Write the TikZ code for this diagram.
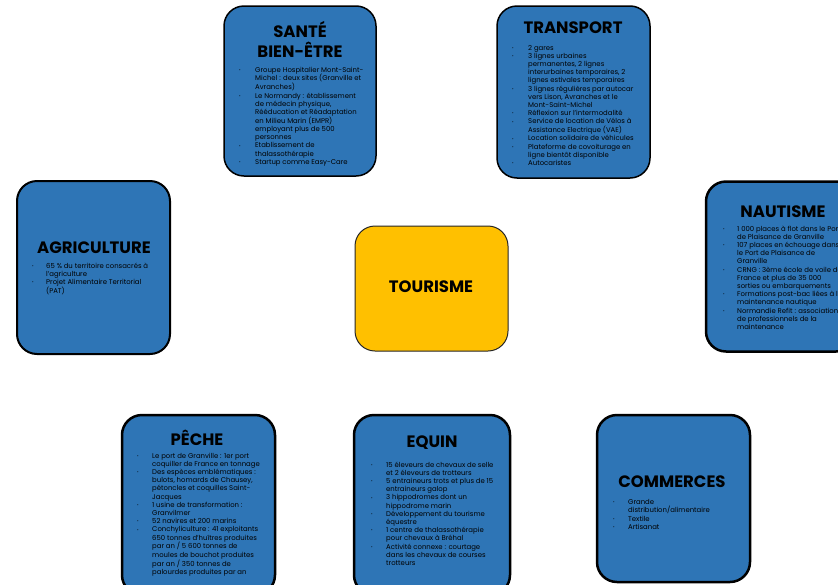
\documentclass[tikz,border=0pt]{standalone}
\usepackage{fontspec}
\setmainfont{Poppins}
\definecolor{boxblue}{HTML}{2E75B6}
\definecolor{boxyellow}{HTML}{FFC000}
\newcommand\blt{\raisebox{0.7pt}{\fontsize{3.8}{4}\selectfont\textbullet}}
\newcommand\mylist[2]{{\fontsize{6.9}{8.2}\selectfont\begin{tabular}[t]{@{}p{#1}@{}l@{}}#2\end{tabular}}}
\tikzset{
  bluebox/.style={draw=black, fill=boxblue, rounded corners=20pt, line width=2.5pt},
  thinbox/.style={bluebox, line width=1.5pt},
  ttl/.style={font=\fontsize{16.5}{20}\selectfont\bfseries, align=center, inner sep=0pt},
  lst/.style={anchor=base west, inner sep=0pt, text=black},
}
\begin{document}
\begin{tikzpicture}[x=1pt,y=-1pt]
\useasboundingbox[fill=white] (0,0) rectangle (838,584);
% boxes
\node[thinbox, minimum width=152pt, minimum height=170pt] (sante) at (300,91) {};
\node[thinbox, minimum width=153pt, minimum height=172pt] (transport) at (573.5,92) {};
\node[bluebox, line width=2pt, minimum width=153pt, minimum height=173pt] (agri) at (93.5,267.5) {};
\node[bluebox, minimum width=150pt, minimum height=170pt] (nautisme) at (781,266.5) {};
\node[draw=black!85, fill=boxyellow, rounded corners=20pt, line width=1pt, minimum width=153pt, minimum height=125pt] (tourisme) at (431.5,288.5) {};
\node[bluebox, minimum width=153pt, minimum height=180pt] (peche) at (198.5,505) {};
\node[bluebox, minimum width=156pt, minimum height=180pt] (equin) at (432,505) {};
\node[bluebox, minimum width=153pt, minimum height=167pt] (commerces) at (673.5,498.5) {};
% titles
\node[ttl] (tsante) at (300,39) {SANTÉ\\BIEN-ÊTRE};
\node[ttl] (ttransport) at (573,28) {TRANSPORT};
\node[ttl] (tagri) at (94,248) {AGRICULTURE};
\node[ttl] (tnaut) at (783,212) {NAUTISME};
\node[ttl] (ttour) at (431,287) {TOURISME};
\node[ttl] (tpeche) at (197,438) {PÊCHE};
\node[ttl] (tequin) at (432,443) {EQUIN};
\node[ttl] (tcomm) at (672,482) {COMMERCES};
% lists
\node[lst] (lsante) at (239,72) {\mylist{16pt}{%
\blt & Groupe Hospitalier Mont-Saint-\\
 & Michel : deux sites (Granville et\\
 & Avranches)\\
\blt & Le Normandy : établissement\\
 & de médecin physique,\\
 & Rééducation et Réadaptation\\
 & en Milieu Marin (EMPR)\\
 & employant plus de 500\\
 & personnes\\
\blt & Etablissement de\\
 & thalassothérapie\\
\blt & Startup comme Easy-Care}};
\node[lst] (ltransport) at (512,50) {\mylist{16pt}{%
\blt & 2 gares\\
\blt & 3 lignes urbaines\\
 & permanentes, 2 lignes\\
 & interurbaines temporaires, 2\\
 & lignes estivales temporaires\\
\blt & 3 lignes régulières par autocar\\
 & vers Lison, Avranches et le\\
 & Mont-Saint-Michel\\
\blt & Réflexion sur l'intermodalité\\
\blt & Service de location de Vélos à\\
 & Assistance Electrique (VAE)\\
\blt & Location solidaire de véhicules\\
\blt & Plateforme de covoiturage en\\
 & ligne bientôt disponible\\
\blt & Autocaristes}};
\node[lst] (lagri) at (32,268) {\mylist{14pt}{%
\blt & 65 \% du territoire consacrés à\\
 & l'agriculture\\
\blt & Projet Alimentaire Territorial\\
 & (PAT)}};
\node[lst] (lnaut) at (723,231) {\mylist{14pt}{%
\blt & 1 000 places à flot dans le Port\\
 & de Plaisance de Granville\\
\blt & 107 places en échouage dans\\
 & le Port de Plaisance de\\
 & Granville\\
\blt & CRNG : 3ème école de voile de\\
 & France et plus de 35 000\\
 & sorties ou embarquements\\
\blt & Formations post-bac liées à la\\
 & maintenance nautique\\
\blt & Normandie Refit : association\\
 & de professionnels de la\\
 & maintenance}};
\node[lst] (lpeche) at (137,458) {\mylist{15pt}{%
\blt & Le port de Granville : 1er port\\
 & coquiller de France en tonnage\\
\blt & Des espèces emblématiques :\\
 & bulots, homards de Chausey,\\
 & pétoncles et coquilles Saint-\\
 & Jacques\\
\blt & 1 usine de transformation :\\
 & Granvilmer\\
\blt & 52 navires et 200 marins\\
\blt & Conchyliculture : 41 exploitants\\
 & 650 tonnes d'huîtres produites\\
 & par an / 5 600 tonnes de\\
 & moules de bouchot produites\\
 & par an / 350 tonnes de\\
 & palourdes produites par an}};
\node[lst] (lequin) at (371,467) {\mylist{15pt}{%
\blt & 15 éleveurs de chevaux de selle\\
 & et 2 éleveurs de trotteurs\\
\blt & 5 entraineurs trots et plus de 15\\
 & entraineurs galop\\
\blt & 3 hippodromes dont un\\
 & hippodrome marin\\
\blt & Développement du tourisme\\
 & équestre\\
\blt & 1 centre de thalassothérapie\\
 & pour chevaux à Bréhal\\
\blt & Activité connexe : courtage\\
 & dans les chevaux de courses\\
 & trotteurs}};
\node[lst] (lcomm) at (613,504) {\mylist{15pt}{%
\blt & Grande\\
 & distribution/alimentaire\\
\blt & Textile\\
\blt & Artisanat}};
\end{tikzpicture}
\end{document}
